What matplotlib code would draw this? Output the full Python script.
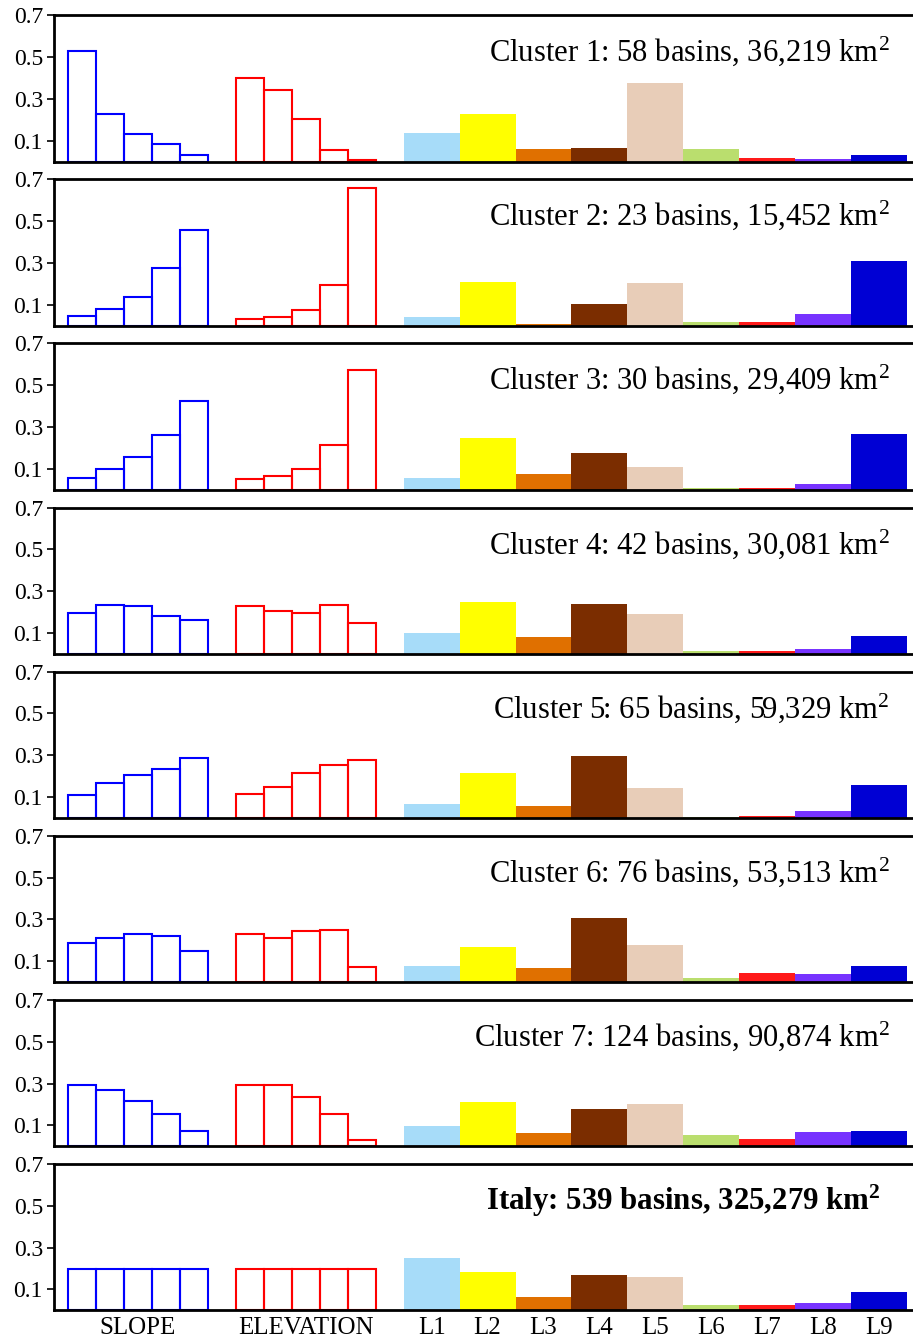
import matplotlib
matplotlib.use("Agg")
import matplotlib.pyplot as plt
import numpy as np

plt.rcParams['font.family'] = ['Liberation Serif', 'DejaVu Serif']
plt.rcParams['mathtext.fontset'] = 'custom'
plt.rcParams['mathtext.rm'] = 'Liberation Serif'
plt.rcParams['mathtext.bf'] = 'Liberation Serif:bold'
plt.rcParams['mathtext.it'] = 'Liberation Serif:italic'

titles = [
    "Cluster 1: 58 basins, 36,219 km$^2$",
    "Cluster 2: 23 basins, 15,452 km$^2$",
    "Cluster 3: 30 basins, 29,409 km$^2$",
    "Cluster 4: 42 basins, 30,081 km$^2$",
    "Cluster 5: 65 basins, 59,329 km$^2$",
    "Cluster 6: 76 basins, 53,513 km$^2$",
    "Cluster 7: 124 basins, 90,874 km$^2$",
    "Italy: 539 basins, 325,279 km$^{\\mathbf{2}}$",
]

slope = [
    [0.531, 0.229, 0.134, 0.083, 0.031],
    [0.048, 0.081, 0.139, 0.275, 0.459],
    [0.059, 0.098, 0.159, 0.263, 0.426],
    [0.196, 0.236, 0.230, 0.182, 0.161],
    [0.109, 0.169, 0.204, 0.236, 0.288],
    [0.188, 0.212, 0.231, 0.222, 0.151],
    [0.292, 0.268, 0.217, 0.153, 0.074],
    [0.200, 0.200, 0.200, 0.200, 0.200],
]

elevation = [
    [0.401, 0.342, 0.205, 0.055, 0.006],
    [0.031, 0.043, 0.074, 0.197, 0.659],
    [0.050, 0.066, 0.101, 0.215, 0.575],
    [0.228, 0.206, 0.196, 0.233, 0.148],
    [0.116, 0.149, 0.215, 0.252, 0.276],
    [0.228, 0.212, 0.244, 0.249, 0.071],
    [0.292, 0.294, 0.236, 0.153, 0.029],
    [0.200, 0.200, 0.200, 0.200, 0.200],
]

landcover = [
    [0.138, 0.230, 0.062, 0.067, 0.376, 0.059, 0.018, 0.012, 0.032],
    [0.042, 0.211, 0.009, 0.105, 0.205, 0.018, 0.016, 0.056, 0.310],
    [0.055, 0.247, 0.077, 0.178, 0.108, 0.009, 0.010, 0.026, 0.265],
    [0.101, 0.249, 0.080, 0.238, 0.190, 0.012, 0.013, 0.024, 0.084],
    [0.069, 0.214, 0.058, 0.297, 0.146, 0.003, 0.009, 0.032, 0.159],
    [0.076, 0.169, 0.069, 0.305, 0.177, 0.021, 0.045, 0.040, 0.079],
    [0.096, 0.214, 0.064, 0.178, 0.201, 0.055, 0.035, 0.069, 0.074],
    [0.250, 0.183, 0.062, 0.170, 0.158, 0.028, 0.025, 0.036, 0.087],
]

lc_labels = ["L1", "L2", "L3", "L4", "L5", "L6", "L7", "L8", "L9"]
lc_colors = ["#a7dcf9", "#ffff00", "#e07000", "#7b2d00", "#e8cdb8",
             "#bade6e", "#ff1a1a", "#7733ff", "#0000d4"]
yticks = [0.1, 0.3, 0.5, 0.7]

W, H = 913, 1339
fig = plt.figure(figsize=(W / 100, H / 100), dpi=100)

left_px = 54
unit_px = 27.97
ax_w_px = 31 * unit_px
ax_h_px = 146.5
pitch = 164.1
first_bottom = 161.7

slope_x = np.arange(5) + 0.5
elev_x = np.arange(5) + 6.5
lc_x = 13 + 2 * np.arange(9)

for i in range(8):
    bottom_px = first_bottom + pitch * i
    ax = fig.add_axes([left_px / W, 1 - bottom_px / H, ax_w_px / W, ax_h_px / H])
    ax.bar(slope_x, slope[i], width=1.0, fill=False, edgecolor="#0000ff", linewidth=1.5)
    ax.bar(elev_x, elevation[i], width=1.0, fill=False, edgecolor="#ff0000", linewidth=1.5)
    ax.bar(lc_x, landcover[i], width=2.0, color=lc_colors, edgecolor="none", linewidth=0)
    ax.set_xlim(-0.5, 30.5)
    ax.set_ylim(0, 0.7)
    ax.set_yticks(yticks)
    ax.set_yticklabels(["0.1", "0.3", "0.5", "0.7"])
    ax.tick_params(axis='y', direction='out', length=5, width=1.2, labelsize=17, pad=3)
    for s in ['left', 'top', 'bottom']:
        ax.spines[s].set_linewidth(2.0)
    ax.spines['right'].set_visible(False)
    if i == 7:
        ax.set_xticks([2.5, 8.5] + list(lc_x))
        ax.set_xticklabels(["SLOPE", "ELEVATION"] + lc_labels)
        ax.tick_params(axis='x', length=0, labelsize=18, pad=5)
        ax.text(0.954, 0.687, titles[i], transform=ax.transAxes, ha='right',
                va='baseline', fontsize=22.2, fontweight='bold')
    else:
        ax.set_xticks([])
        ax.text(0.964, 0.687, titles[i], transform=ax.transAxes, ha='right',
                va='baseline', fontsize=22.1)

fig.savefig("out.png", dpi=100)
